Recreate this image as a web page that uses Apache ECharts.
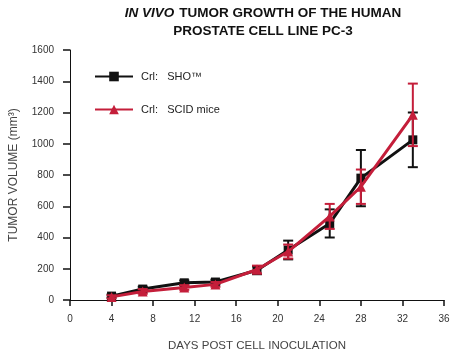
<!DOCTYPE html>
<html><head><meta charset="utf-8">
<script src="https://cdn.jsdelivr.net/npm/echarts@6/dist/echarts.min.js"></script>
<style>html,body{margin:0;padding:0;background:#fff}#c{width:455px;height:364px}</style>
</head><body><div id="c"></div>
<script>
var days = [4, 7, 11, 14, 18, 21, 25, 28, 33];
var shoMean = [25, 70, 110, 115, 190, 320, 490, 780, 1025];
var shoErr = [10, 15, 15, 15, 25, 60, 90, 180, 175];
var scidMean = [20, 55, 80, 100, 195, 310, 535, 725, 1185];
var scidErr = [10, 15, 15, 15, 25, 45, 80, 110, 200];
var seriesNames = ['Crl:   SHO\u2122', 'Crl:   SCID mice'];
var black = '#111111', red = '#c41e3a';

function pts(m){ return days.map(function(d,i){ return [d, m[i]]; }); }
function errs(m,e){ return days.map(function(d,i){ return [d, m[i]-e[i], m[i]+e[i]]; }); }
function errRender(color){
  return function(params, api){
    var x = api.value(0), lo = api.value(1), hi = api.value(2);
    var a = api.coord([x, hi]), b = api.coord([x, lo]), w = 5;
    var st = {stroke: color, lineWidth: 2};
    return {type:'group', children:[
      {type:'line', shape:{x1:a[0],y1:a[1],x2:b[0],y2:b[1]}, style:st},
      {type:'line', shape:{x1:a[0]-w,y1:a[1],x2:a[0]+w,y2:a[1]}, style:st},
      {type:'line', shape:{x1:b[0]-w,y1:b[1],x2:b[0]+w,y2:b[1]}, style:st}
    ]};
  };
}
var chart = echarts.init(document.getElementById('c'));
chart.setOption({
  animation:false,
  title:{
    text:'{i|IN VIVO} {b|TUMOR GROWTH OF THE HUMAN}\n{b|PROSTATE CELL LINE PC-3}',
    left:258, top:-1, textAlign:'center',
    textStyle:{align:'center', lineHeight:18, rich:{
      i:{fontFamily:'Liberation Sans', fontSize:13.5, fontWeight:'bold', fontStyle:'italic', color:'#111', lineHeight:18},
      b:{fontFamily:'Liberation Sans', fontSize:13.5, fontWeight:'bold', color:'#111', lineHeight:18}
    }}
  },
  legend:{
    orient:'vertical', left:89, top:66, itemWidth:38, itemHeight:12, itemGap:22,
    textStyle:{fontFamily:'Liberation Sans', fontSize:11, color:'#222', padding:[0,0,0,3]},
    data:seriesNames
  },
  grid:{left:67, right:11, top:50, bottom:64},
  xAxis:{
    type:'value', min:0, max:36, interval:4,
    name:'DAYS POST CELL INOCULATION', nameLocation:'middle', nameGap:40,
    nameTextStyle:{fontFamily:'Liberation Sans', fontSize:11.5, color:'#444'},
    axisLine:{lineStyle:{color:'#111', width:1}},
    axisTick:{length:6, lineStyle:{color:'#111', width:1.5}},
    axisLabel:{fontFamily:'Liberation Sans', fontSize:10, color:'#333', margin:14},
    splitLine:{show:false}
  },
  yAxis:{
    type:'value', min:0, max:1600, interval:200,
    name:'TUMOR VOLUME (mm\u00b3)', nameLocation:'middle', nameGap:50, nameRotate:90,
    nameTextStyle:{fontFamily:'Liberation Sans', fontSize:12, color:'#444'},
    axisLine:{show:true, lineStyle:{color:'#111', width:1}},
    axisTick:{show:true, length:7, lineStyle:{color:'#111', width:1.5}},
    axisLabel:{fontFamily:'Liberation Sans', fontSize:10, color:'#333', margin:16,
      formatter:function(v){ return String(v); }},
    splitLine:{show:false}
  },
  series:[
    {type:'custom', name:'e1', renderItem:errRender(black), data:errs(shoMean, shoErr), z:2},
    {type:'line', name:seriesNames[0], data:pts(shoMean), symbol:'rect', symbolSize:9,
     lineStyle:{color:black, width:3}, itemStyle:{color:black}, z:3},
    {type:'custom', name:'e2', renderItem:errRender(red), data:errs(scidMean, scidErr), z:4},
    {type:'line', name:seriesNames[1], data:pts(scidMean), symbol:'triangle', symbolSize:10,
     lineStyle:{color:red, width:3}, itemStyle:{color:red}, z:5}
  ]
});
</script></body></html>
